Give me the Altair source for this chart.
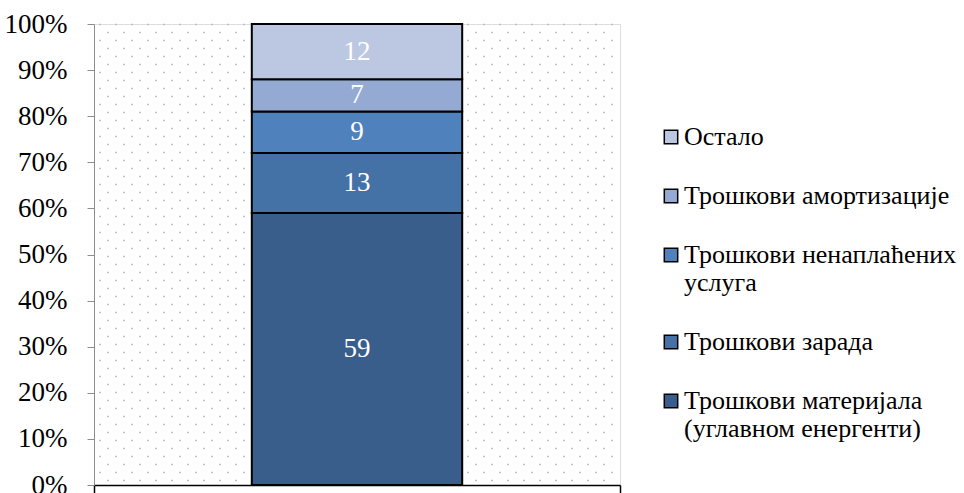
import altair as alt
import pandas as pd

categories = [
    "Трошкови материјала (углавном енергенти)",
    "Трошкови зарада",
    "Трошкови ненаплаћених услуга",
    "Трошкови амортизације",
    "Остало",
]
legend_lines = [
    ["Трошкови материјала", "(углавном енергенти)"],
    ["Трошкови зарада"],
    ["Трошкови ненаплаћених", "услуга"],
    ["Трошкови амортизације"],
    ["Остало"],
]
values = [59, 13, 9, 7, 12]
colors = ["#3A5E8C", "#4472A7", "#4F81BD", "#95AAD2", "#BCC8E1"]
y_ticks = list(range(0, 101, 10))

FONT = "Liberation Serif"
FS = 27
LFS = 26
W, H = 526, 461

df = pd.DataFrame({
    "group": ["A"] * len(categories),
    "cat": categories,
    "value": values,
    "order": list(range(len(categories))),
})


def js_arr(lines):
    return "[" + ", ".join(f"'{s}'" for s in lines) + "]"


label_map = " : ".join(
    f"datum.label == '{c}' ? {js_arr(l)}" for c, l in zip(categories, legend_lines)
) + " : datum.label"

color_scale = alt.Scale(domain=list(reversed(categories)),
                        range=list(reversed(colors)))

base = alt.Chart(df).transform_stack(
    stack="value", groupby=["group"], as_=["y0", "y1"],
    sort=[alt.SortField("order", order="ascending")],
).transform_calculate(mid="(datum.y0 + datum.y1) / 2")

bars = base.mark_bar(
    width=alt.RelativeBandSize(0.4), stroke="black", strokeWidth=2
).encode(
    x=alt.X("group:N", title=None,
            scale=alt.Scale(paddingInner=0, paddingOuter=0),
            axis=alt.Axis(labels=False, domainColor="black", domainWidth=1.5,
                          tickColor="black", tickWidth=1.5, tickSize=8,
                          tickBand="extent", title=None)),
    y=alt.Y("y0:Q", scale=alt.Scale(domain=[0, 100], nice=False),
            axis=alt.Axis(values=y_ticks, labelExpr="datum.value + '%'",
                          grid=False, domainColor="#8c8c8c", tickColor="#8c8c8c",
                          tickSize=7, labelPadding=20, labelFont=FONT,
                          labelFontSize=FS, labelColor="black", title=None)),
    y2="y1:Q",
    color=alt.Color("cat:N", scale=color_scale,
                    legend=alt.Legend(
                        title=None, orient="none", legendX=564, legendY=100,
                        symbolType="square", symbolSize=180,
                        symbolStrokeColor="black", symbolStrokeWidth=1.5,
                        labelFont=FONT, labelFontSize=LFS, labelColor="black",
                        labelLimit=400, rowPadding=33, labelOffset=0,
                        labelExpr=label_map)),
)

texts = base.mark_text(font=FONT, fontSize=FS, color="white").encode(
    x=alt.X("group:N"),
    y=alt.Y("mid:Q"),
    text=alt.Text("value:Q"),
)

main = alt.layer(bars, texts)

dots = alt.Chart(alt.sequence(0, 33 * 58, as_="i")).transform_calculate(
    row="floor(datum.i / 33)", col="datum.i % 33"
).transform_calculate(
    px="6 + datum.col * 16 + (datum.row % 2) * 8", py="0.5 + datum.row * 8"
).transform_filter("datum.px < 524 && datum.py < 458").mark_square(
    size=3, color="#b8b8b8", opacity=1
).encode(
    x=alt.X("px:Q", scale=None, axis=None),
    y=alt.Y("py:Q", scale=None, axis=None),
)

chart = alt.layer(dots, main).resolve_scale(
    x="independent", y="independent"
).properties(
    width=W, height=H,
    autosize=alt.AutoSizeParams(type="none"),
    padding={"left": 94, "top": 24, "right": 344, "bottom": 8},
).configure_view(stroke=None).configure(background="white")

chart.save("out.html", embed_options={"renderer": "svg", "actions": False})
